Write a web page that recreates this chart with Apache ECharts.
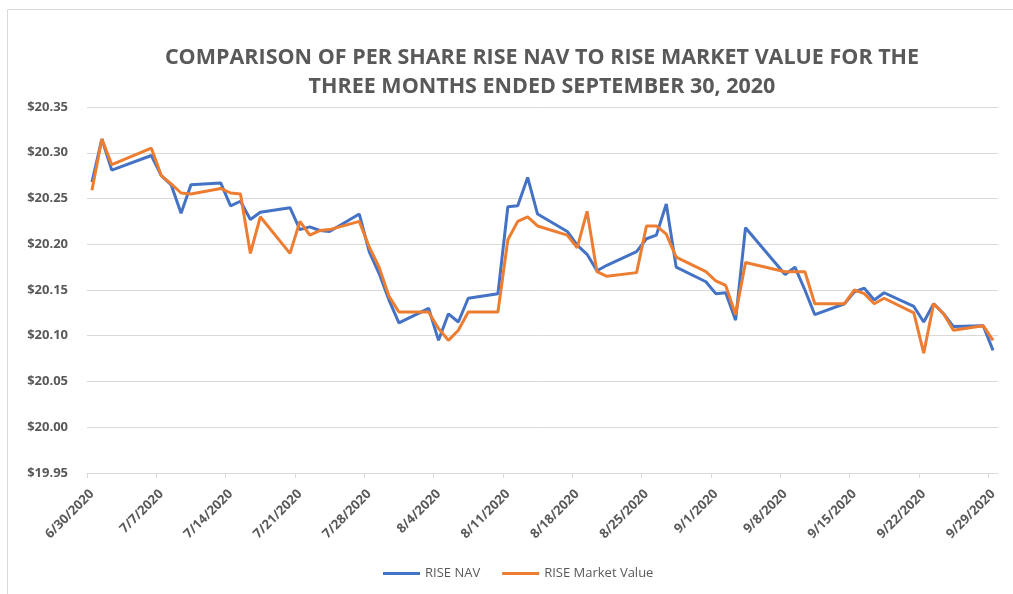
<!DOCTYPE html>
<html>
<head>
<meta charset="utf-8">
<script src="https://cdn.jsdelivr.net/npm/echarts@6/dist/echarts.min.js"></script>
<style>
  html, body { margin: 0; padding: 0; background: #fff; }
  #main { width: 1013px; height: 594px; }
</style>
</head>
<body>
<div id="main"></div>
<script>
// trading days
var dates = [
  '6/30/2020', '7/1/2020', '7/2/2020', '7/6/2020', '7/7/2020', '7/8/2020', '7/9/2020', '7/10/2020',
  '7/13/2020', '7/14/2020', '7/15/2020', '7/16/2020', '7/17/2020',
  '7/20/2020', '7/21/2020', '7/22/2020', '7/23/2020', '7/24/2020',
  '7/27/2020', '7/28/2020', '7/29/2020', '7/30/2020', '7/31/2020',
  '8/3/2020', '8/4/2020', '8/5/2020', '8/6/2020', '8/7/2020',
  '8/10/2020', '8/11/2020', '8/12/2020', '8/13/2020', '8/14/2020',
  '8/17/2020', '8/18/2020', '8/19/2020', '8/20/2020', '8/21/2020',
  '8/24/2020', '8/25/2020', '8/26/2020', '8/27/2020', '8/28/2020',
  '8/31/2020', '9/1/2020', '9/2/2020', '9/3/2020', '9/4/2020',
  '9/8/2020', '9/9/2020', '9/10/2020', '9/11/2020',
  '9/14/2020', '9/15/2020', '9/16/2020', '9/17/2020', '9/18/2020',
  '9/21/2020', '9/22/2020', '9/23/2020', '9/24/2020', '9/25/2020',
  '9/28/2020', '9/29/2020'
];
var navValues = [
  20.268, 20.315, 20.281, 20.297, 20.275, 20.265, 20.234, 20.265,
  20.267, 20.242, 20.247, 20.227, 20.235,
  20.240, 20.216, 20.219, 20.215, 20.214,
  20.233, 20.192, 20.168, 20.139, 20.114,
  20.130, 20.095, 20.124, 20.115, 20.141,
  20.146, 20.241, 20.242, 20.273, 20.233,
  20.214, 20.199, 20.189, 20.171, 20.177,
  20.192, 20.206, 20.210, 20.244, 20.175,
  20.159, 20.146, 20.147, 20.117, 20.218,
  20.167, 20.175, 20.150, 20.123,
  20.135, 20.148, 20.152, 20.139, 20.147,
  20.132, 20.115, 20.135, 20.124, 20.110,
  20.111, 20.084
];
var marketValues = [
  20.259, 20.315, 20.287, 20.305, 20.275, 20.266, 20.256, 20.255,
  20.261, 20.256, 20.255, 20.190, 20.230,
  20.190, 20.225, 20.210, 20.215, 20.216,
  20.225, 20.197, 20.175, 20.143, 20.126,
  20.126, 20.108, 20.095, 20.106, 20.126,
  20.126, 20.205, 20.225, 20.230, 20.220,
  20.210, 20.196, 20.236, 20.170, 20.165,
  20.169, 20.220, 20.220, 20.211, 20.186,
  20.170, 20.160, 20.155, 20.123, 20.180,
  20.170, 20.170, 20.170, 20.135,
  20.135, 20.150, 20.146, 20.135, 20.141,
  20.125, 20.081, 20.135, 20.124, 20.106,
  20.111, 20.095
];
var tickLabels = [
  '6/30/2020', '7/7/2020', '7/14/2020', '7/21/2020', '7/28/2020', '8/4/2020', '8/11/2020',
  '8/18/2020', '8/25/2020', '9/1/2020', '9/8/2020', '9/15/2020', '9/22/2020', '9/29/2020'
];

var startDay = new Date(2020, 5, 30);
function dayOffset(s) {
  var p = s.split('/');
  var d = new Date(+p[2], +p[0] - 1, +p[1]);
  return Math.round((d - startDay) / 86400000);
}
// each day is a cell, points (and labels) sit in the middle of it
var xs = dates.map(function (s) { return dayOffset(s) + 0.5; });
var tickValues = tickLabels.map(function (s) { return dayOffset(s); });
var labelValues = tickValues.map(function (v) { return v + 0.5; });

var textColor = '#595959';
var font = 'Open Sans';

var myChart = echarts.init(document.getElementById('main'));
var option = {
  animation: false,
  color: ['#4472C4', '#ED7D31'],
  title: {
    text: 'COMPARISON OF PER SHARE RISE NAV TO RISE MARKET VALUE FOR THE\nTHREE MONTHS ENDED SEPTEMBER 30, 2020',
    left: 537,
    top: 38,
    textAlign: 'center',
    textStyle: {
      fontFamily: font,
      fontWeight: 'bold',
      fontSize: 21.5,
      lineHeight: 29.5,
      color: textColor
    }
  },
  legend: {
    left: 378,
    top: 562,
    itemWidth: 37,
    itemHeight: 3,
    itemGap: 22,
    icon: 'rect',
    textStyle: { fontFamily: font, fontSize: 13, color: textColor },
    data: ['RISE NAV', 'RISE Market Value']
  },
  grid: {
    left: 87,
    right: 15,
    top: 107,
    bottom: 121
  },
  xAxis: {
    type: 'value',
    min: 0,
    max: 92,
    splitLine: { show: false },
    axisLine: { show: true, lineStyle: { color: '#d9d9d9', width: 1 } },
    axisTick: {
      show: true,
      customValues: tickValues,
      length: 5,
      lineStyle: { color: '#d9d9d9' }
    },
    axisLabel: {
      customValues: labelValues,
      rotate: 45,
      margin: 19,
      fontFamily: font,
      fontWeight: 'bold',
      fontSize: 13,
      color: textColor,
      formatter: function (v) {
        return tickLabels[labelValues.indexOf(v)] || '';
      }
    }
  },
  yAxis: {
    type: 'value',
    min: 19.95,
    max: 20.35,
    interval: 0.05,
    axisLine: { show: false },
    axisTick: { show: false },
    splitLine: { lineStyle: { color: '#d9d9d9', width: 1 } },
    axisLabel: {
      margin: 19,
      fontFamily: font,
      fontWeight: 'bold',
      fontSize: 13,
      color: textColor,
      formatter: function (v) { return '$' + v.toFixed(2); }
    }
  },
  graphic: [{
    type: 'rect',
    shape: { x: 7.5, y: 9.5, width: 1200, height: 800 },
    style: { fill: null, stroke: '#d9d9d9', lineWidth: 1 },
    silent: true,
    z: -1
  }],
  series: [
    {
      name: 'RISE NAV',
      type: 'line',
      showSymbol: false,
      lineStyle: { width: 3 },
      data: xs.map(function (x, i) { return [x, navValues[i]]; })
    },
    {
      name: 'RISE Market Value',
      type: 'line',
      showSymbol: false,
      lineStyle: { width: 3 },
      data: xs.map(function (x, i) { return [x, marketValues[i]]; })
    }
  ]
};
myChart.setOption(option);
</script>
</body>
</html>
